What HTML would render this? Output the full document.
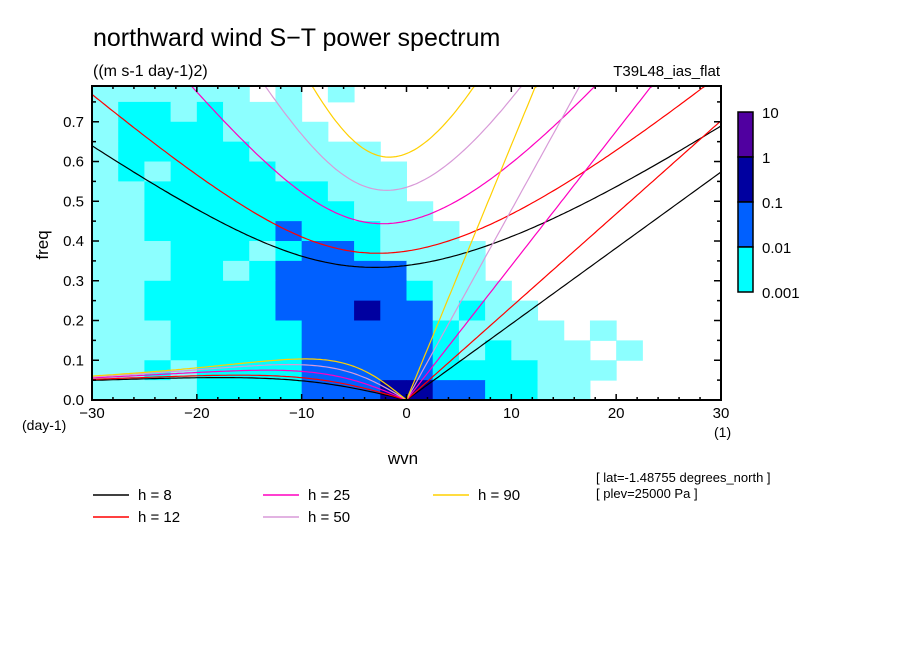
<!DOCTYPE html>
<html><head><meta charset="utf-8">
<style>
html,body{margin:0;padding:0;background:#fff;}
svg{display:block;font-family:"Liberation Sans",sans-serif;}
</style></head>
<body>
<svg id="chart" width="904" height="654" viewBox="0 0 904 654" xmlns="http://www.w3.org/2000/svg">
<rect width="904" height="654" fill="#fff"/>
<text x="93" y="46" font-size="25">northward wind S−T power spectrum</text>
<text x="93" y="76" font-size="16">((m s-1 day-1)2)</text>
<text x="720" y="76" font-size="15" text-anchor="end">T39L48_ias_flat</text>
<g id="cells"></g>
<g id="curves"></g>
<g id="axes"></g>
<g id="cbar"></g>
<text transform="translate(48,245) rotate(-90)" font-size="17" text-anchor="middle">freq</text>
<text x="22" y="430" font-size="14">(day-1)</text>
<text x="714" y="437" font-size="14">(1)</text>
<text x="403" y="464" font-size="17" text-anchor="middle">wvn</text>
<text x="596" y="482" font-size="13">[ lat=-1.48755 degrees_north ]</text>
<text x="596" y="498" font-size="13">[ plev=25000 Pa ]</text>
<g id="legend"></g>
</svg>
<script>
// ---- data ----
const depths = [8, 12, 25, 50, 90];
const depthColors = ["#000000", "#ff0000", "#ff00c0", "#d89ad8", "#ffd000"];
const levelLabels = ["10", "1", "0.1", "0.01", "0.001"];
const levelColors = ["#ffffff", "#00ffff", "#0060ff", "#0000a0", "#5000a0"];
const mixedColor = "#8cffff";
const xTickLabels = ["−30", "−20", "−10", "0", "10", "20", "30"];
const xTickValues = [-30, -20, -10, 0, 10, 20, 30];
const yTickValues = [0, 0.1, 0.2, 0.3, 0.4, 0.5, 0.6, 0.7];
const yTickLabels = ["0.0", "0.1", "0.2", "0.3", "0.4", "0.5", "0.6", "0.7"];
// power level per cell ('h' = patchy 0.001 level); rows top (0.75-0.8) to bottom (0-0.05); cols wvn -30..30 step 2.5
const powerRows = [
 "hhhhhh0h0h00000000000000",
 "h11h1hhh0000000000000000",
 "h1111hhhh000000000000000",
 "h11111hhhhh0000000000000",
 "h1h1111hhhhh000000000000",
 "hh1111111hhh000000000000",
 "hh11111111hhh00000000000",
 "hh111112111hhh0000000000",
 "hhh111h1221hhhh000000000",
 "hhh11h122222hhh000000000",
 "hh11111222221hhh00000000",
 "hh11111222322h1hh0000000",
 "hhh11111222221hhhh0h0000",
 "hhh11111222221h1hhh0h000",
 "hh1h1111222221111hhh0000",
 "hhhh1111222332211hh00000"
];
// ---- scales ----
const X0 = 92, X1 = 721, Y0 = 400, YT = 86, FMAX = 0.79;
const xs = k => X0 + (k + 30) / 60 * (X1 - X0);
const ys = f => Y0 - f / FMAX * (Y0 - YT);
const NS = "http://www.w3.org/2000/svg";
function mk(tag, attrs, parent) {
  const e = document.createElementNS(NS, tag);
  for (const a in attrs) e.setAttribute(a, attrs[a]);
  parent.appendChild(e); return e;
}
// ---- cells ----
const cellsG = document.getElementById('cells');
powerRows.forEach((row, r) => {
  const fTop = Math.min(FMAX, 0.8 - r * 0.05), fBot = 0.75 - r * 0.05;
  for (let c = 0; c < row.length; c++) {
    const ch = row[c];
    if (ch === '0') continue;
    const fill = ch === 'h' ? mixedColor : levelColors[+ch];
    const k0 = -30 + c * 2.5;
    const el = mk('rect', {x: xs(k0), y: ys(fTop), width: xs(k0 + 2.5) - xs(k0) + 0.5, height: ys(fBot) - ys(fTop) + 0.5, fill: fill}, cellsG);
    
    
  }
});
// ---- dispersion curves ----
const beta = 2.28e-11, g = 9.81, a = 6.371e6, cpd = 86400 / (2 * Math.PI);
const curvesG = document.getElementById('curves');
function addPath(pts, color, name) {
  let d = '';
  let pen = false;
  pts.forEach(([k, f]) => {
    if (f > FMAX + 0.02 || f < 0) { pen = false; return; }
    d += (pen ? 'L' : 'M') + xs(k).toFixed(1) + ' ' + ys(Math.min(f, FMAX)).toFixed(1);
    pen = true;
  });
  const p = mk('path', {d: d, fill: 'none', stroke: color, 'stroke-width': 1.2}, curvesG);
  
  
}
depths.forEach((h, i) => {
  const c = Math.sqrt(g * h), col = depthColors[i];
  const ig = [], ros = [], kel = [];
  for (let s = -30; s <= 30.001; s += 0.25) {
    const k = s / a;
    let w = Math.sqrt(c * c * k * k + 3 * beta * c);
    for (let n = 0; n < 30; n++) {
      const fv = w * w * w - (c * c * k * k + 3 * beta * c) * w - beta * c * c * k;
      const dv = 3 * w * w - (c * c * k * k + 3 * beta * c);
      w -= fv / dv;
    }
    ig.push([s, w * cpd]);
    if (s <= 0) ros.push([s, -beta * k / (k * k + 3 * beta / c) * cpd]);
    if (s >= 0) kel.push([s, c * k * cpd]);
  }
  addPath(ig, col, 'ig-curve-h' + h);
  addPath(ros, col, 'rossby-curve-h' + h);
  addPath(kel, col, 'kelvin-curve-h' + h);
});
// ---- axes ----
const ax = document.getElementById('axes');
mk('rect', {x: X0, y: YT, width: X1 - X0, height: Y0 - YT, fill: 'none', stroke: '#000', 'stroke-width': 2}, ax);
for (let k = -30; k <= 30; k += 2) {
  const L = k % 10 === 0 ? 6 : 3;
  mk('line', {x1: xs(k), x2: xs(k), y1: Y0, y2: Y0 - L, stroke: '#000', 'stroke-width': 1.5}, ax);
  mk('line', {x1: xs(k), x2: xs(k), y1: YT, y2: YT + L, stroke: '#000', 'stroke-width': 1.5}, ax);
}
for (let j = 0; j <= 15; j++) {
  const f = j * 0.05, L = j % 2 === 0 ? 7 : 4;
  mk('line', {x1: X0, x2: X0 + L, y1: ys(f), y2: ys(f), stroke: '#000', 'stroke-width': 1.5}, ax);
  mk('line', {x1: X1, x2: X1 - L, y1: ys(f), y2: ys(f), stroke: '#000', 'stroke-width': 1.5}, ax);
}
xTickValues.forEach((v, i) => {
  const t = mk('text', {x: xs(v), y: 418, 'font-size': 15, 'text-anchor': 'middle'}, ax);
  t.textContent = xTickLabels[i];
  
  
});
yTickValues.forEach((v, i) => {
  const t = mk('text', {x: 84, y: ys(v) + 5, 'font-size': 15, 'text-anchor': 'end'}, ax);
  t.textContent = yTickLabels[i];
  
  
});
// ---- colorbar ----
const cb = document.getElementById('cbar');
const CBT = 112, CBB = 292, CBX = 738, CBW = 15, nSeg = 4;
for (let i = 0; i < nSeg; i++) {
  const y0 = CBT + i * (CBB - CBT) / nSeg;
  const r = mk('rect', {x: CBX, y: y0, width: CBW, height: (CBB - CBT) / nSeg, fill: levelColors[nSeg - i], stroke: '#000', 'stroke-width': 1.5}, cb);
  
  
}
levelLabels.forEach((lab, i) => {
  const t = mk('text', {x: 762, y: CBT + i * (CBB - CBT) / nSeg + 6, 'font-size': 15}, cb);
  t.textContent = lab;
  
  
});
// ---- legend ----
const lg = document.getElementById('legend');
const legPos = [[93, 495], [93, 517], [263, 495], [263, 517], [433, 495]];
depths.forEach((h, i) => {
  const [lx, ly] = legPos[i];
  mk('line', {x1: lx, x2: lx + 36, y1: ly, y2: ly, stroke: depthColors[i], 'stroke-width': 1.5}, lg);
  const t = mk('text', {x: lx + 45, y: ly + 5, 'font-size': 15, 'xml:space': 'preserve'}, lg);
  t.textContent = 'h = ' + (h < 10 ? ' ' : '') + h;
  
  
});
</script>
</body></html>
